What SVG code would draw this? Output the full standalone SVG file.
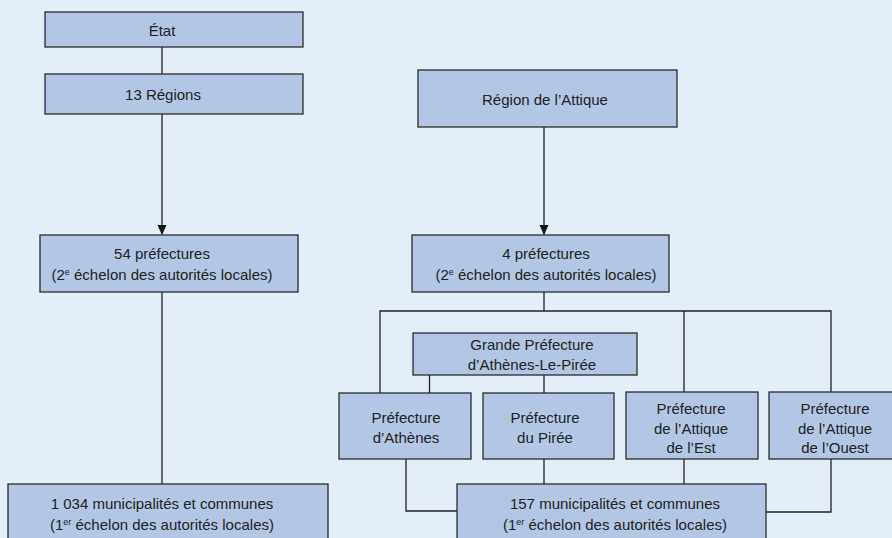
<svg xmlns="http://www.w3.org/2000/svg" width="892" height="538" viewBox="0 0 892 538">
<defs>
<style>
.bx{fill:#b3c7e4;stroke:#2b2b2b;stroke-width:1.3}
.t{font-family:"Liberation Sans",Arial,sans-serif;font-size:15px;fill:#222;text-anchor:middle}
.c{fill:none;stroke:#222;stroke-width:1.3}
.sup{font-size:9px}
</style>
<marker id="ar" markerWidth="10" markerHeight="12" refX="9" refY="5" orient="auto" markerUnits="userSpaceOnUse">
<path d="M0,0.5 L10,5 L0,9.5 Z" fill="#111"/>
</marker>
</defs>
<rect width="892" height="538" fill="#e3eef8"/>
<g id="connectors">
<path class="c" d="M162,47 V74"/>
<path class="c" d="M162,114 V234" marker-end="url(#ar)"/>
<path class="c" d="M162,292 V484"/>
<path class="c" d="M544,127 V234" marker-end="url(#ar)"/>
<path class="c" d="M544,292 V311"/>
<path class="c" d="M380,393 V311 H831 V392"/>
<path class="c" d="M684,311 V392"/>
<path class="c" d="M429.5,375 V393"/>
<path class="c" d="M544,375 V393"/>
<path class="c" d="M406,459 V511 H457"/>
<path class="c" d="M544,459 V484"/>
<path class="c" d="M684,459 V484"/>
<path class="c" d="M831,459 V512 H766"/>
</g>
<g id="etat">
<rect class="bx" x="45" y="12" width="258" height="35"/>
<text class="t" x="162" y="36">État</text>
</g>
<g id="regions13">
<rect class="bx" x="45" y="74" width="258" height="40"/>
<text class="t" x="163" y="100">13 Régions</text>
</g>
<g id="attique">
<rect class="bx" x="418" y="70" width="259" height="57"/>
<text class="t" x="545" y="105">Région de l’Attique</text>
</g>
<g id="pref54">
<rect class="bx" x="40" y="235" width="258" height="57"/>
<text class="t" x="162" y="259">54 préfectures</text>
<text class="t" x="162" y="280">(2<tspan class="sup" dy="-5">e</tspan><tspan dy="5"> échelon des autorités locales)</tspan></text>
</g>
<g id="pref4">
<rect class="bx" x="412" y="235" width="257" height="57"/>
<text class="t" x="546" y="259">4 préfectures</text>
<text class="t" x="546" y="280">(2<tspan class="sup" dy="-5">e</tspan><tspan dy="5"> échelon des autorités locales)</tspan></text>
</g>
<g id="grande">
<rect class="bx" x="413" y="333" width="224" height="42"/>
<text class="t" x="532" y="350">Grande Préfecture</text>
<text class="t" x="532" y="370">d’Athènes-Le-Pirée</text>
</g>
<g id="athenes">
<rect class="bx" x="339" y="393" width="132" height="66"/>
<text class="t" x="406" y="423">Préfecture</text>
<text class="t" x="406" y="443">d’Athènes</text>
</g>
<g id="piree">
<rect class="bx" x="483" y="393" width="131" height="66"/>
<text class="t" x="545" y="423">Préfecture</text>
<text class="t" x="545" y="443">du Pirée</text>
</g>
<g id="est">
<rect class="bx" x="626" y="392" width="132" height="67"/>
<text class="t" x="691" y="414">Préfecture</text>
<text class="t" x="691" y="434">de l’Attique</text>
<text class="t" x="691" y="453">de l’Est</text>
</g>
<g id="ouest">
<rect class="bx" x="769" y="392" width="132" height="67"/>
<text class="t" x="835" y="414">Préfecture</text>
<text class="t" x="835" y="434">de l’Attique</text>
<text class="t" x="835" y="453">de l’Ouest</text>
</g>
<g id="mun1034">
<rect class="bx" x="8" y="484" width="320" height="64"/>
<text class="t" x="162" y="509">1 034 municipalités et communes</text>
<text class="t" x="162" y="530">(1<tspan class="sup" dy="-5">er</tspan><tspan dy="5"> échelon des autorités locales)</tspan></text>
</g>
<g id="mun157">
<rect class="bx" x="457" y="484" width="309" height="64"/>
<text class="t" x="615" y="509">157 municipalités et communes</text>
<text class="t" x="615" y="530">(1<tspan class="sup" dy="-5">er</tspan><tspan dy="5"> échelon des autorités locales)</tspan></text>
</g>
</svg>
